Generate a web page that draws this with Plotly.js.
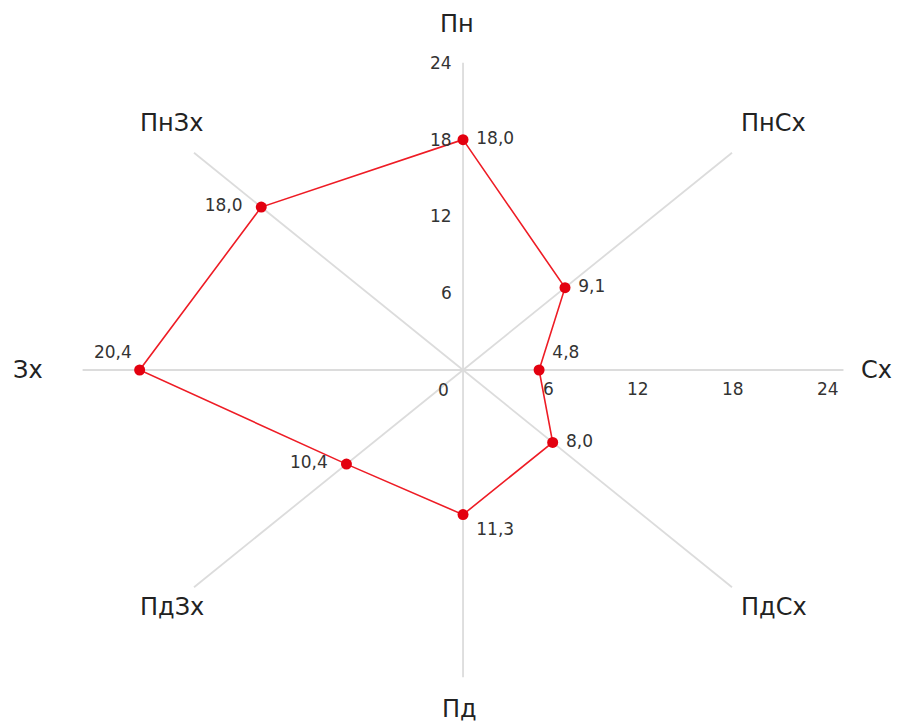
<!DOCTYPE html>
<html>
<head>
<meta charset="utf-8">
<script src="https://cdn.plot.ly/plotly-3.0.1.min.js"></script>
<style>html,body{margin:0;padding:0;background:#fff;}#chart{width:904px;height:724px;}</style>
</head>
<body>
<div id="chart"></div>
<script>
// Wind directions (clockwise from north) and values
const directions = ["Пн", "ПнСх", "Сх", "ПдСх", "Пд", "ПдЗх", "Зх", "ПнЗх"];
const angles = [0, 45, 90, 135, 180, 225, 270, 315];
const values = [18.0, 9.1, 4.8, 8.0, 11.3, 10.4, 20.4, 18.0];
const radialTicks = [6, 12, 18, 24];
const radialMax = 24;

// styling (label placement)
const labelRadius = 27;
const labelShiftX = [-6, 8, -15, 8, -4, 12, -7, 11];
const labelShiftY = [0, 3, 0, 7, 7, 7, 0, 3];
const textPositions = ["middle right", "middle right", "top right", "middle right",
                       "bottom right", "middle left", "top left", "middle left"];
const textTemplates = [" %{customdata:.1f}", " %{customdata:.1f}", " %{customdata:.1f}", " %{customdata:.1f}",
                       " %{customdata:.1f}", "%{customdata:.1f}  ", "%{customdata:.1f}", "%{customdata:.1f}  "];
const FONT = "'DejaVu Sans', sans-serif";

const rad = a => a * Math.PI / 180;
const px = (r, a) => r * Math.sin(rad(a));
const py = (r, a) => r * Math.cos(rad(a));

// spokes
const sx = [], sy = [];
angles.forEach(a => { sx.push(0, px(radialMax, a), null); sy.push(0, py(radialMax, a), null); });

const dx = values.map((v, i) => px(v, angles[i]));
const dy = values.map((v, i) => py(v, angles[i]));

const traces = [
  {x: sx, y: sy, mode: "lines", line: {color: "#dcdcdc", width: 1.8}, hoverinfo: "skip", showlegend: false},
  {x: dx.concat([dx[0]]), y: dy.concat([dy[0]]), mode: "lines", line: {color: "#ee1c25", width: 1.6},
   hoverinfo: "skip", showlegend: false},
  {x: dx, y: dy, mode: "markers+text", marker: {color: "#e3000f", size: 11},
   customdata: values, texttemplate: textTemplates, textposition: textPositions,
   textfont: {family: FONT, size: 17, color: "#333"}, cliponaxis: false, showlegend: false}
];

const annotations = [];
directions.forEach((d, i) => annotations.push({
  x: px(labelRadius, angles[i]), y: py(labelRadius, angles[i]), text: d, showarrow: false,
  xanchor: "center", yanchor: "middle", xshift: labelShiftX[i], yshift: labelShiftY[i],
  font: {family: FONT, size: 24, color: "#222"}
}));
radialTicks.forEach(t => {
  annotations.push({x: 0, y: t, text: String(t), showarrow: false, xanchor: "right", yanchor: "middle",
    xshift: -9, font: {family: FONT, size: 17, color: "#333"}});
  annotations.push({x: t, y: 0, text: String(t), showarrow: false, xanchor: "right", yanchor: "top",
    xshift: -2, yshift: -7, font: {family: FONT, size: 17, color: "#333"}});
});
annotations.push({x: 0, y: 0, text: "0", showarrow: false, xanchor: "right", yanchor: "top",
  xshift: -12, yshift: -8, font: {family: FONT, size: 17, color: "#333"}});

const layout = {
  width: 904, height: 724,
  margin: {l: 0, r: 0, t: 0, b: 0},
  paper_bgcolor: "#fff", plot_bgcolor: "#fff",
  separators: ", ",
  xaxis: {range: [-29.21, 27.82], visible: false, fixedrange: true},
  yaxis: {range: [-27.66, 28.91], visible: false, fixedrange: true},
  annotations: annotations,
  showlegend: false
};

Plotly.newPlot("chart", traces, layout, {displayModeBar: false, staticPlot: true});
</script>
</body>
</html>
